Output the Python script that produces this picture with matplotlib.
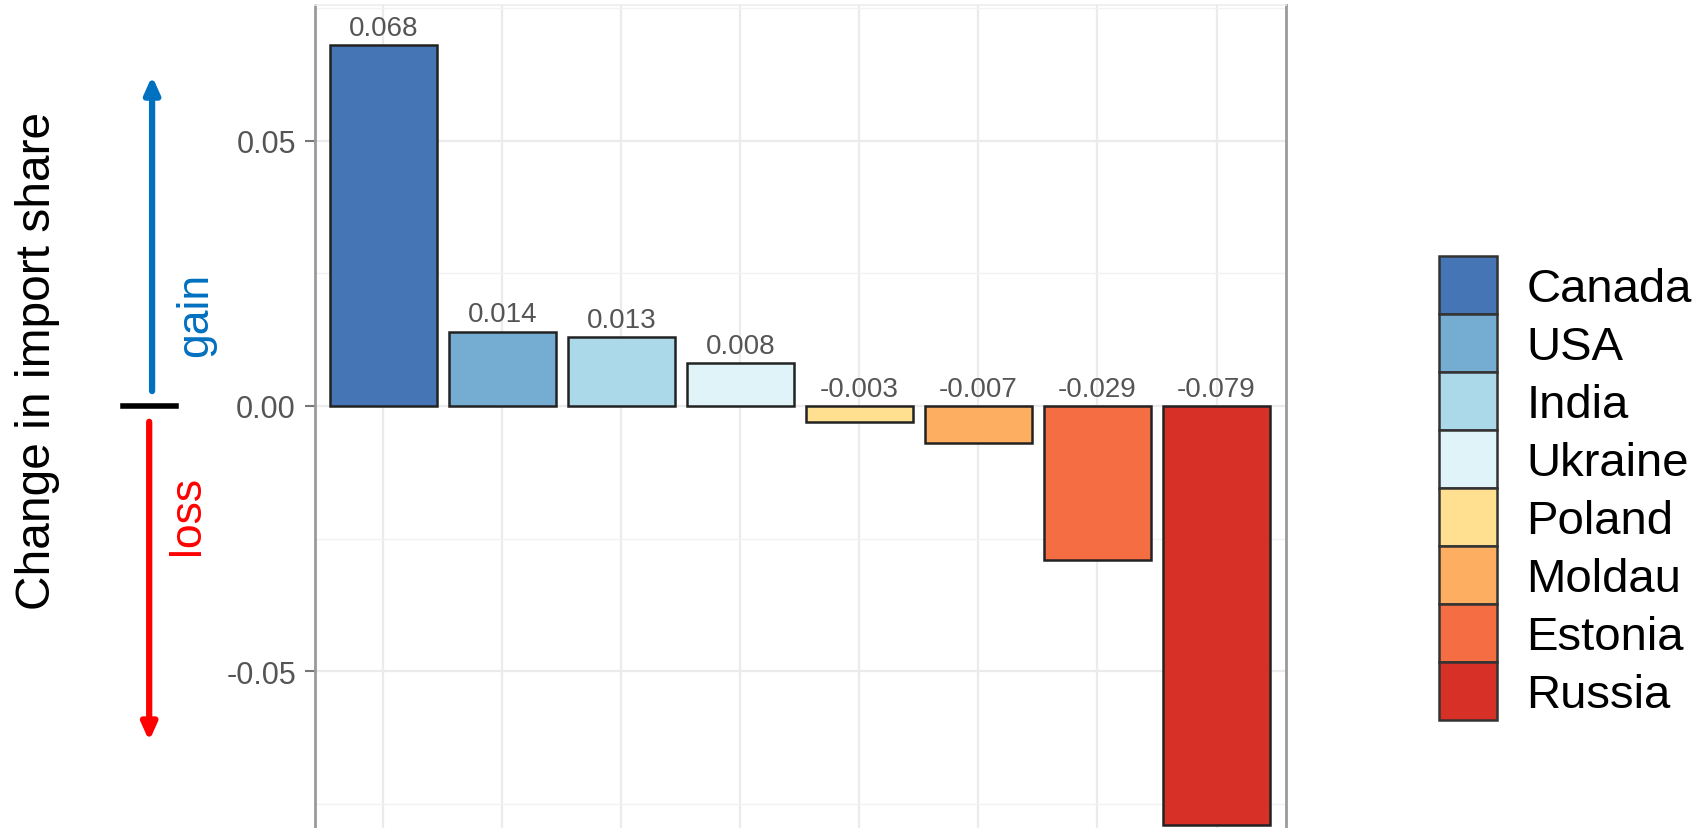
import matplotlib.pyplot as plt
from matplotlib.patches import Patch
from matplotlib.ticker import MultipleLocator

plt.rcParams['font.family'] = ['Liberation Sans', 'DejaVu Sans']
plt.rcParams['axes.unicode_minus'] = False

# data
countries = ['Canada', 'USA', 'India', 'Ukraine', 'Poland', 'Moldau', 'Estonia', 'Russia']
changes = [0.068, 0.014, 0.013, 0.008, -0.003, -0.007, -0.029, -0.079]
colors = ['#4575B4', '#74ADD1', '#ABD9E9', '#E0F3F8', '#FEE090', '#FDAE61', '#F46D43', '#D73027']
ytick_values = [-0.05, 0.0, 0.05]

fig = plt.figure(figsize=(17.05, 8.29), dpi=100)
ax = fig.add_axes([0.185, -0.001, 0.569, 0.994])

x = list(range(len(countries)))
ax.bar(x, changes, width=0.9, color=colors, edgecolor='#222222', linewidth=1.8, zorder=3)

# value labels (negative ones sit above the zero line)
for i, v in enumerate(changes):
    ax.annotate(f'{v:.3f}', (i, max(v, 0)), xytext=(0, 3), textcoords='offset points',
                ha='center', va='bottom', fontsize=20, color='#555555', zorder=4)

ax.set_xlim(-0.57, 7.58)
ax.set_ylim(-0.0797, 0.0756)
ax.set_xticks(x)
ax.set_xticklabels([])
ax.tick_params(axis='x', length=0)
ax.set_yticks(ytick_values)
ax.set_yticklabels([f'{t:.2f}' for t in ytick_values])
ax.yaxis.set_minor_locator(MultipleLocator(0.025))
ax.tick_params(axis='y', which='major', length=7, width=1.5, color='#777777',
               labelsize=22, labelcolor='#555555', pad=7)
ax.tick_params(axis='y', which='minor', length=0)

ax.grid(True, which='major', color='#ebebeb', linewidth=1.6, zorder=0)
ax.grid(True, which='minor', axis='y', color='#f2f2f2', linewidth=1.0, zorder=0)
ax.set_axisbelow(True)

for side in ['left', 'right']:
    ax.spines[side].set_color('#9a9a9a')
    ax.spines[side].set_linewidth(2)
ax.spines['top'].set_color('#ededed')
ax.spines['top'].set_linewidth(1.2)
ax.spines['bottom'].set_visible(False)

# y label and gain/loss arrows on the left
fig.text(0.022, 0.565, 'Change in import share', rotation=90, ha='center', va='center',
         fontsize=34.5, color='black')
ax.annotate('', xy=(0.0892, 0.907), xytext=(0.0892, 0.527), xycoords='figure fraction',
            arrowprops=dict(arrowstyle='-|>,head_width=0.45,head_length=1.0',
                            color='#0070C0', lw=4.5, shrinkA=0, shrinkB=0))
ax.annotate('', xy=(0.0875, 0.105), xytext=(0.0875, 0.49), xycoords='figure fraction',
            arrowprops=dict(arrowstyle='-|>,head_width=0.45,head_length=1.0',
                            color='#FF0000', lw=4.5, shrinkA=0, shrinkB=0))
fig.add_artist(plt.Line2D([0.072, 0.103], [0.509, 0.509], color='black', lw=4,
                          transform=fig.transFigure))
fig.text(0.115, 0.62, 'gain', rotation=90, ha='center', va='center', fontsize=32,
         color='#0070C0')
fig.text(0.110, 0.378, 'loss', rotation=90, ha='center', va='center', fontsize=32,
         color='#FF0000')

# legend
handles = [Patch(facecolor=c, edgecolor='#333333', linewidth=1.8) for c in colors]
fig.legend(handles, countries, loc='center left', bbox_to_anchor=(0.8437, 0.41),
           frameon=False, fontsize=34, handlelength=1.229, handleheight=1.514,
           labelspacing=0.0, handletextpad=0.635, borderpad=0, borderaxespad=0)

fig.savefig('out.png', dpi=100)
